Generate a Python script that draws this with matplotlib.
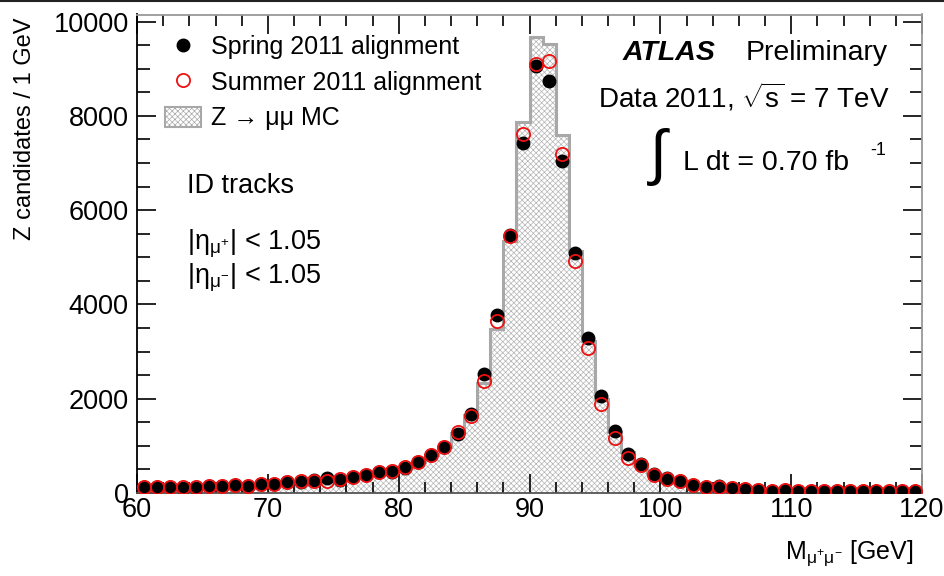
"""Z -> mumu invariant mass with ID tracks, Spring vs Summer 2011 alignment."""
import numpy as np
import matplotlib
matplotlib.use("Agg")
import matplotlib.pyplot as plt
from matplotlib.lines import Line2D
from matplotlib.patches import Patch

plt.rcParams["font.family"] = ["Liberation Sans", "DejaVu Sans"]
plt.rcParams["mathtext.fontset"] = "custom"
plt.rcParams["mathtext.rm"] = "Liberation Sans"
plt.rcParams["mathtext.it"] = "Liberation Sans:italic"
plt.rcParams["mathtext.default"] = "regular"
plt.rcParams["hatch.linewidth"] = 0.5

# 1 GeV bins from 60 to 120 GeV
EDGES = np.arange(60, 121, 1)
MASS = EDGES[:-1] + 0.5

SPRING = [127, 134, 127, 113, 113, 148, 148, 170, 141, 198,
          198, 240, 240, 268, 311, 268, 339, 381, 452, 452,
          537, 657, 798, 974, 1257, 1667, 2528, 3772, 5482, 7424,
          9048, 8730, 7035, 5092, 3291, 2055, 1314, 826, 614, 395,
          311, 254, 169, 127, 141, 113, 92, 64, 42, 56,
          42, 42, 40, 38, 40, 36, 38, 30, 42, 36]

SUMMER = [135, 128, 130, 120, 118, 145, 150, 165, 150, 195,
          190, 235, 245, 265, 255, 305, 335, 385, 445, 460,
          545, 650, 800, 985, 1290, 1632, 2373, 3645, 5446, 7614,
          9098, 9154, 7191, 4930, 3079, 1880, 1159, 749, 590, 390,
          305, 250, 175, 130, 135, 115, 90, 70, 45, 55,
          45, 42, 40, 38, 40, 36, 38, 32, 40, 36]

MC = [140, 138, 132, 125, 122, 140, 150, 160, 162, 190,
      205, 232, 248, 272, 300, 305, 342, 388, 440, 470,
      548, 660, 805, 985, 1270, 1660, 2330, 3480, 5350, 7860,
      9680, 9520, 7600, 5130, 3220, 1990, 1300, 880, 620, 420,
      315, 250, 185, 150, 130, 112, 96, 84, 75, 68,
      62, 56, 52, 50, 46, 44, 42, 40, 40, 38]

W, H = 944, 576
HATCH_GREY = "#b4b4b4"
EDGE_GREY = "#a8a8a8"


def fx(px):
    return px / W


def fy(py):
    return 1 - py / H


fig = plt.figure(figsize=(W / 100, H / 100), dpi=100)
ax = fig.add_axes([fx(137), fy(493), (922 - 137) / W, (493 - 14.5) / H])

# MC histogram: hatched fill plus grey outline
ax.stairs(MC, EDGES, fill=True, facecolor="white", edgecolor=HATCH_GREY,
          hatch="xxxxxx", linewidth=0, zorder=1)
ax.stairs(MC, EDGES, fill=False, edgecolor=EDGE_GREY, linewidth=2.2, zorder=2)

ax.plot(MASS, SPRING, "o", color="black", ms=9, zorder=3)
ax.plot(MASS, SUMMER, "o", mfc="none", mec="#ee1111", ms=9.5, mew=1.3, zorder=4)

ax.set_xlim(60, 120)
ax.set_ylim(0, 10150)
ax.set_xticks(np.arange(60, 121, 10))
ax.set_xticks(np.arange(60, 121, 2), minor=True)
ax.set_yticks(np.arange(0, 10001, 2000))
ax.set_yticks(np.arange(0, 10001, 500), minor=True)
ax.tick_params(which="both", direction="in", top=True, right=True,
               labelsize=19.5, color="black", width=1.2)
ax.tick_params(axis="y", which="major", length=14, pad=6)
ax.tick_params(axis="y", which="minor", length=9)
ax.tick_params(axis="x", which="major", length=14, pad=3)
ax.tick_params(axis="x", which="minor", length=8)
ax.spines["left"].set_color("black")
ax.spines["bottom"].set_color("#555555")
ax.spines["top"].set_color("#999999")
ax.spines["right"].set_color("#999999")
for s in ax.spines.values():
    s.set_linewidth(1.3)

handles = [
    Line2D([], [], ls="none", marker="o", color="black", ms=9),
    Line2D([], [], ls="none", marker="o", mfc="none", mec="#ee1111", ms=9.5, mew=1.3),
    Patch(facecolor="white", edgecolor=EDGE_GREY, hatch="xxxxxx", linewidth=1.5),
]
labels = ["Spring 2011 alignment", "Summer 2011 alignment", "Z \u2192 \u03bc\u03bc MC"]
leg = ax.legend(handles, labels, loc="upper left", bbox_to_anchor=(fx(165), fy(35)),
                bbox_transform=fig.transFigure, frameon=False, fontsize=18,
                handlelength=1.45, handleheight=0.9, handletextpad=0.4,
                labelspacing=0.47, borderpad=0, borderaxespad=0)

fig.text(fx(623), fy(53), "ATLAS", fontsize=20.5, fontweight="bold", fontstyle="italic",
         va="center", ha="left")
fig.text(fx(888), fy(53), "Preliminary", fontsize=20.5, va="center", ha="right")
fig.text(fx(890), fy(97), r"Data 2011, $\sqrt{s}$ = 7 TeV", fontsize=20,
         va="center", ha="right")
fig.text(fx(658), fy(157), "\u222b", fontsize=44, va="center", ha="center")
fig.text(fx(683), fy(163), "L dt = 0.70 fb", fontsize=20.5, va="center", ha="left")
fig.text(fx(870), fy(150), "-1", fontsize=13, va="center", ha="left")

fig.text(fx(187), fy(186), "ID tracks", fontsize=19.5, va="center", ha="left")
fig.text(fx(187), fy(244), r"|η$_{\mu^{+}}$| < 1.05", fontsize=19.5, va="center", ha="left")
fig.text(fx(187), fy(278), r"|η$_{\mu^{-}}$| < 1.05", fontsize=19.5, va="center", ha="left")

fig.text(fx(25), fy(18), "Z candidates / 1 GeV", fontsize=17, rotation=90,
         va="top", ha="center")
fig.text(fx(914), fy(553), r"M$_{\mu^{+}\mu^{-}}$ [GeV]", fontsize=18,
         va="center", ha="right")

# thin rule along the top edge
fig.add_artist(Line2D([0, 1], [fy(1), fy(1)], color="#222222", lw=1.5,
                      transform=fig.transFigure))

fig.savefig("out.png", dpi=100)
